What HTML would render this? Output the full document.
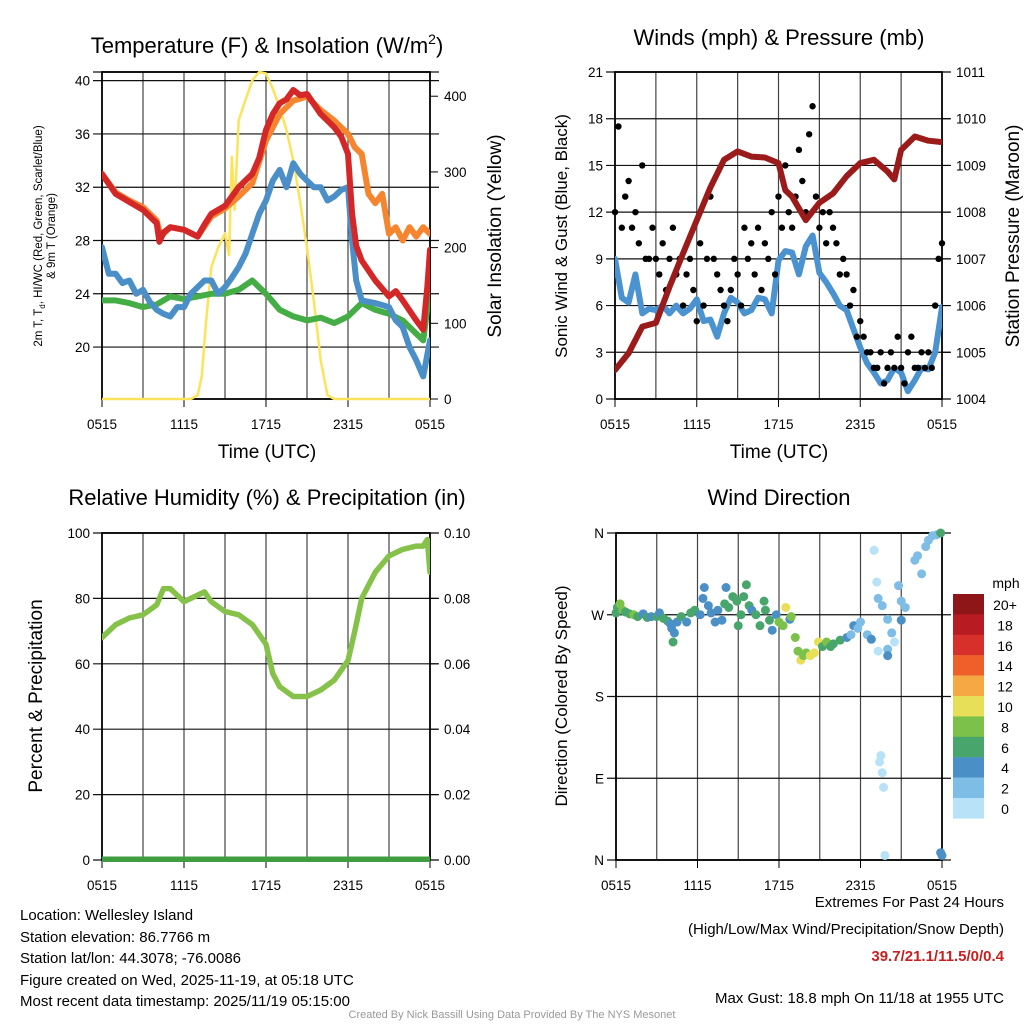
<!DOCTYPE html>
<html><head><meta charset="utf-8"><style>
body{margin:0;background:#fff;font-family:"Liberation Sans",Arial,sans-serif}
svg text{font-family:"Liberation Sans",Arial,sans-serif}
</style></head><body>
<svg id="s" width="1024" height="1024" viewBox="0 0 1024 1024" xmlns="http://www.w3.org/2000/svg">
<rect width="1024" height="1024" fill="#fff"/>
<text x="267" y="53" font-size="22" text-anchor="middle">Temperature (F) &amp; Insolation (W/m<tspan dy="-9" font-size="14">2</tspan><tspan dy="9">)</tspan></text>
<text x="779" y="45" font-size="22" text-anchor="middle">Winds (mph) &amp; Pressure (mb)</text>
<text x="267" y="505" font-size="22" text-anchor="middle">Relative Humidity (%) &amp; Precipitation (in)</text>
<text x="779" y="505" font-size="22" text-anchor="middle">Wind Direction</text>
<text transform="translate(42,236) rotate(-90)" font-size="11.5" text-anchor="middle">2m T, T<tspan dy="3" font-size="8">d</tspan><tspan dy="-3">, HI/WC (Red, Green, Scarlet/Blue)</tspan></text>
<text transform="translate(55,236) rotate(-90)" font-size="11.5" text-anchor="middle">&amp; 9m T (Orange)</text>
<text transform="translate(501,236) rotate(-90)" font-size="19" text-anchor="middle">Solar Insolation (Yellow)</text>
<text transform="translate(567,236) rotate(-90)" font-size="17" text-anchor="middle">Sonic Wind &amp; Gust (Blue, Black)</text>
<text transform="translate(1019,236) rotate(-90)" font-size="19" text-anchor="middle">Station Pressure (Maroon)</text>
<text transform="translate(42,696) rotate(-90)" font-size="19" text-anchor="middle">Percent &amp; Precipitation</text>
<text transform="translate(567,696) rotate(-90)" font-size="17" text-anchor="middle">Direction (Colored By Speed)</text>
<text x="267" y="458" font-size="19" text-anchor="middle">Time (UTC)</text>
<text x="779" y="458" font-size="19" text-anchor="middle">Time (UTC)</text>
<g font-size="15">
<text x="20" y="920">Location: Wellesley Island</text>
<text x="20" y="942">Station elevation: 86.7766 m</text>
<text x="20" y="963">Station lat/lon: 44.3078; -76.0086</text>
<text x="20" y="985">Figure created on Wed, 2025-11-19, at 05:18 UTC</text>
<text x="20" y="1006">Most recent data timestamp: 2025/11/19 05:15:00</text>
</g>
<g font-size="15" text-anchor="end">
<text x="1004" y="907">Extremes For Past 24 Hours</text>
<text x="1004" y="934">(High/Low/Max Wind/Precipitation/Snow Depth)</text>
<text x="1004" y="961" fill="#c8201f" font-weight="bold">39.7/21.1/11.5/0/0.4</text>
<text x="1004" y="1003">Max Gust: 18.8 mph On 11/18 at 1955 UTC</text>
</g>
<text x="512" y="1018" font-size="11" fill="#999" text-anchor="middle">Created By Nick Bassill Using Data Provided By The NYS Mesonet</text>
<text x="1006" y="588" font-size="14" text-anchor="middle">mph</text>
</svg>
<script>
// ---- data ----
const xTickLabels = ["0515","1115","1715","2315","0515"];
const tLeftTicks = [20,24,28,32,36,40];
const tRightTicks = [0,100,200,300,400];
const windTicks = [0,3,6,9,12,15,18,21];
const presTicks = [1004,1005,1006,1007,1008,1009,1010,1011];
const rhTicks = [0,20,40,60,80,100];
const precipTicks = ["0.00","0.02","0.04","0.06","0.08","0.10"];
const dirTickLabels = ["N","E","S","W","N"];
const dirTickDeg = [0,90,180,270,360];

const redHours = [0,1,2,3,4,4.2,4.5,5,6,7,7.5,8,9,10,11,11.5,12,12.5,13,13.5,14,14.5,15,16,17,17.5,18,18.3,18.6,19,20,21,21.5,22,23,23.5,23.8,24];
const redVals = [33,31.5,30.9,30.3,29.3,27.9,28.6,29,28.8,28.3,29.2,30,30.6,32,33,34.2,36.3,37.5,38.3,38.6,39.3,38.9,39,37.5,36.5,35.8,34.5,30,27.6,26.5,25,23.8,24.2,23.5,22,21.3,24.5,27.3];
const orangeHours = [0,1,2,3,4,4.3,5,6,7,8,9,10,11,12,13,14,15,16,17,18,18.5,19,19.5,20,20.5,21,21.5,22,22.5,23,23.5,24];
const orangeVals = [33,31.6,31,30.5,29.5,28.3,29,28.8,28.3,29.8,30.4,31.3,32.3,35.5,37.5,38.5,38.8,37.8,37,36,35,34.5,31.5,30.8,31.5,28.5,29,28,29,28.3,29,28.5];
const blueHours = [0,0.5,1,1.5,2,2.5,3,3.5,4,4.5,5,5.5,6,6.5,7,7.5,8,8.5,9,9.5,10,10.5,11,11.5,12,12.5,13,13.5,14,14.5,15,15.5,16,16.5,17,17.5,18,18.3,18.6,19,20,21,21.5,22,22.5,23,23.5,24];
const blueVals = [27.5,25.5,25.5,24.8,25,24,24.3,23.4,22.8,22.5,22.3,23,23,24,24.5,25,25,24,24.5,25.2,26,27,28.5,30,31,32.5,33.3,32,33.8,33,32.5,32,32,31,31.3,31.8,32,28,25,23.5,23.3,23,22,21.5,20,19,17.8,20.5];
const greenHours = [0,1,2,3,4,5,6,7,8,9,10,11,12,13,14,15,16,17,18,19,20,21,22,23,23.5,24];
const greenVals = [23.5,23.5,23.3,23,23.2,23.8,23.6,23.8,24,24,24.3,25,24,22.8,22.3,22,22.2,21.8,22.3,23.3,22.8,22.5,22,21,20.5,24.5];
const solarHours = [0,6.5,7,7.3,7.6,8,8.5,9,9.3,9.5,9.7,10,10.5,11,11.5,12,12.5,13,13.5,14,14.5,15,15.5,16,16.5,17,24];
const solarVals = [0,0,5,30,100,174,200,219,190,320,250,368,395,421,432,430,410,385,355,315,260,200,130,51,5,0,0];

const presHours = [0,1,2,3,4,5,6,7,8,9,10,11,12,12.5,13,14,15,16,17,18,19,20,20.5,21,22,23,24];
const presVals = [1004.62,1004.98,1005.55,1005.63,1006.4,1007.12,1007.83,1008.53,1009.12,1009.3,1009.19,1009.17,1009.05,1008.47,1008.33,1007.83,1008.2,1008.4,1008.77,1009.05,1009.12,1008.87,1008.7,1009.33,1009.62,1009.53,1009.5];
const windVals = [9,6.5,6.2,8,5.5,5.8,5.7,6,5.5,6,5.5,5.8,6.4,5,5.1,4,5.5,6.5,6.2,5.5,5.7,6.5,6.4,5.5,8.9,9.5,9.4,8,9.8,10.5,8.1,7.5,6.8,6,5.7,4.5,3.3,2.3,1.7,1,1.2,2,1.7,0.5,1.2,2,1.9,3,5.9];
const gustVals = [12,17.5,11,13,14,11,12,10,15, 9,9,11,9,8,10,7,9, 11,8,9,6,8,9,7,5, 10,6,9,13,9,8,7,6, 5,7,9,8,6,11,9,10, 8,11,7,10,9,12,8,13, 11,15,12,11,13,16,14,12, 17,18.8,13,11,12,10,12,11, 10,8,9,8,6,7,4,5, 4,3,3,2,2,3,1,2, 3,2,4,2,1,3,4,2, 2,3,2,3,2,6,9,10];

const rhHours = [0,1,2,3,4,4.5,5,6,7,7.5,8,9,10,11,12,12.5,13,14,15,16,17,18,18.5,19,20,21,22,23,23.5,23.8,24];
const rhVals = [68,72,74,75,78,83,83,79,81,82,79,76,75,72,66,57,53,50,50,52,55,61,70,80,88,93,95,96,96,98,88];
const precipHours = [0,24];
const precipVals = [0,0];

const dirHours = [0,0.1,0.3,0.5,0.7,1,1.3,1.6,2,2.3,2.6,3,3.2,3.5,3.8,4,4.1,4.2,4.3,4.5,4.8,5.2,5.5,5.8,6.2,6.4,6.5,6.8,7,7.3,7.5,7.8,8,8.1,8.3,8.6,8.9,9,9.2,9.4,9.6,9.8,10,10.3,10.6,10.9,11,11.3,11.5,11.8,12,12.3,12.5,12.8,12.9,13.2,13.4,13.6,13.8,14,14.3,14.6,14.9,15.2,15.5,15.8,16,16.5,17,17.3,17.5,17.8,18,18.5,18.8,19,19.2,19.3,19.3,19.6,19.5,19.4,19.6,19.7,19.8,20,20,20,20.3,20.5,20.8,21,21,21.3,22,22.2,22.5,22.8,23,23.3,23.6,23.9,24,23.9];
const dirDeg = [272,278,282,275,273,271,270,268,271,267,268,268,272,266,263,260,255,240,250,262,268,262,272,275,270,288,300,280,272,262,275,264,282,300,278,290,285,258,270,290,303,280,275,270,258,285,275,264,253,270,262,258,278,265,268,245,230,220,225,228,225,228,240,235,240,235,238,242,245,248,258,255,262,248,243,341,306,288,230,280,115,108,96,80,5,265,232,225,250,240,302,285,264,278,330,335,315,345,352,357,358,360,5,8];
const dirSpd = [6,6,8,8,6,6,8,6,4,6,4,6,4,6,6,4,4,6,4,4,6,4,6,6,4,4,4,4,4,4,4,4,6,4,6,6,6,6,6,6,6,6,4,6,6,6,6,6,4,4,8,8,10,4,8,8,8,10,8,8,10,10,10,6,8,6,6,6,4,2,4,2,2,2,4,0,0,2,0,2,0,0,0,0,0,2,2,4,2,0,2,2,4,2,2,2,2,2,2,2,2,6,4,4];
const cbarLabels = ["20+","18","16","14","12","10","8","6","4","2","0"];
const cbarColors = ["#8e1518","#b81c22","#d7302a","#ef5f2a","#f6a844","#e8df58","#7cc24a","#48a66d","#4a8fc6","#7ebde6","#b8e2f7"];

// ---- drawing ----
const svg = document.getElementById('s');
const NS = 'http://www.w3.org/2000/svg';
function mk(tag, attrs, parent){ const e=document.createElementNS(NS,tag); for(const k in attrs) e.setAttribute(k,attrs[k]); (parent||svg).appendChild(e); return e; }
function panel(x0,y0,x1,y1,lmin,lmax,rmin,rmax,name){ return {x0,y0,x1,y1,
  X:h=>x0+(x1-x0)*h/24, Y:v=>y1-(y1-y0)*(v-lmin)/(lmax-lmin), R:v=>y1-(y1-y0)*(v-rmin)/(rmax-rmin), name}; }
const P1 = panel(102,72,430,399,16.1,40.65,0,432,'temp');
const P2 = panel(615,72,942,399,0,21,1004,1011,'wind');
const P3 = panel(102,533,430,860,0,100,0,0.1,'rh');
const P4 = panel(616,533,942,860,0,360,0,1,'direction');

function frame(P, leftVals, leftFmt, rightVals, rightFmtY, rightLabels, gridY){
  const g = mk('g',{});
  
  
  for(let h=3; h<24; h+=3){ mk('line',{x1:P.X(h),x2:P.X(h),y1:P.y0,y2:P.y1,stroke:'#444','stroke-width':1.2},g); }
  gridY.forEach(y=>mk('line',{x1:P.x0-9,x2:P.x1+9,y1:y,y2:y,stroke:'#111','stroke-width':1.2},g));
  for(let i=0;i<5;i++){ const x=P.X(i*6); mk('line',{x1:x,x2:x,y1:P.y1,y2:P.y1+8,stroke:'#000'},g);
    const t=mk('text',{x:x,y:P.y1+30,'font-size':13.5,'text-anchor':'middle'},g); t.textContent=xTickLabels[i]; }
  leftVals.forEach((v,i)=>{ const y=leftFmt(v); const t=mk('text',{x:P.x0-12,y:y+5,'font-size':13.5,'text-anchor':'end'},g); t.textContent=(P.name==='direction'?dirTickLabels[i]:v); });
  if(rightVals) rightVals.forEach((v,i)=>{ const y=rightFmtY(v); mk('line',{x1:P.x1,x2:P.x1+8,y1:y,y2:y,stroke:'#000'},g);
    const t=mk('text',{x:P.x1+14,y:y+5,'font-size':13.5},g); t.textContent=rightLabels?rightLabels[i]:v; });
  mk('rect',{x:P.x0,y:P.y0,width:P.x1-P.x0,height:P.y1-P.y0,fill:'none',stroke:'#000','stroke-width':1.8},g);
  return g;
}
function line(P, hours, vals, yf, color, w, name){
  const d = hours.map((h,i)=>(i?'L':'M')+P.X(h).toFixed(1)+','+yf(vals[i]).toFixed(1)).join(' ');
  const p = mk('path',{d:d,fill:'none',stroke:color,'stroke-width':w,'stroke-linejoin':'round','stroke-linecap':'round','clip-path':'url(#c-'+P.name+')'});
  
  
}
[P1,P2,P3,P4].forEach(P=>{ const c=mk('clipPath',{id:'c-'+P.name}); mk('rect',{x:P.x0,y:P.y0-2,width:P.x1-P.x0,height:P.y1-P.y0+4},c); });

// Panel 1
frame(P1, tLeftTicks, P1.Y, tRightTicks, P1.R, null, [P1.y0].concat(tLeftTicks.map(P1.Y)));
line(P1, solarHours, solarVals, P1.R, '#fde35a', 2.5, 'solar-insolation-line');
line(P1, greenHours, greenVals, P1.Y, '#45ad45', 6, 'heat-index-windchill-line');
line(P1, blueHours, blueVals, P1.Y, '#4a8fc8', 6, 'dewpoint-line');
line(P1, orangeHours, orangeVals, P1.Y, '#f5862f', 6, 'temp-9m-line');
line(P1, redHours, redVals, P1.Y, '#d42828', 6, 'temp-2m-line');

// Panel 2
frame(P2, windTicks, P2.Y, presTicks, P2.R, null, windTicks.map(P2.Y));
const wH = windVals.map((v,i)=>i*0.5);
line(P2, wH, windVals, P2.Y, '#4a93d0', 6, 'sonic-wind-line');
gustVals.forEach((v,i)=>{ const c=mk('circle',{cx:P2.X(i*0.25),cy:P2.Y(v),r:3.2,fill:'#000'});
  
   });
line(P2, presHours, presVals, P2.R, '#9b1b1b', 6, 'pressure-line');

// Panel 3
frame(P3, rhTicks, P3.Y, [0,0.02,0.04,0.06,0.08,0.1], P3.R, precipTicks, rhTicks.map(P3.Y));
line(P3, rhHours, rhVals, P3.Y, '#86c24a', 5.5, 'relative-humidity-line');
line(P3, precipHours, precipVals, P3.R, '#3f9e3f', 7, 'precipitation-line');

// Panel 4
frame(P4, dirTickDeg, P4.Y, null, null, null, dirTickDeg.map(P4.Y));
dirHours.forEach((h,i)=>{ const bin=Math.min(10,Math.floor(dirSpd[i]/2)); const col=cbarColors[10-bin];
  const c=mk('circle',{cx:P4.X(h),cy:P4.Y(dirDeg[i]),r:4.5,fill:col});
  
   });
cbarColors.forEach((col,i)=>{ const y=594+i*20.4;
  const r=mk('rect',{x:953,y:y,width:31,height:20.6,fill:col});
  
  
  const t=mk('text',{x:1005,y:y+16,'font-size':14,'text-anchor':'middle'}); t.textContent=cbarLabels[i]; });
</script>
</body></html>
